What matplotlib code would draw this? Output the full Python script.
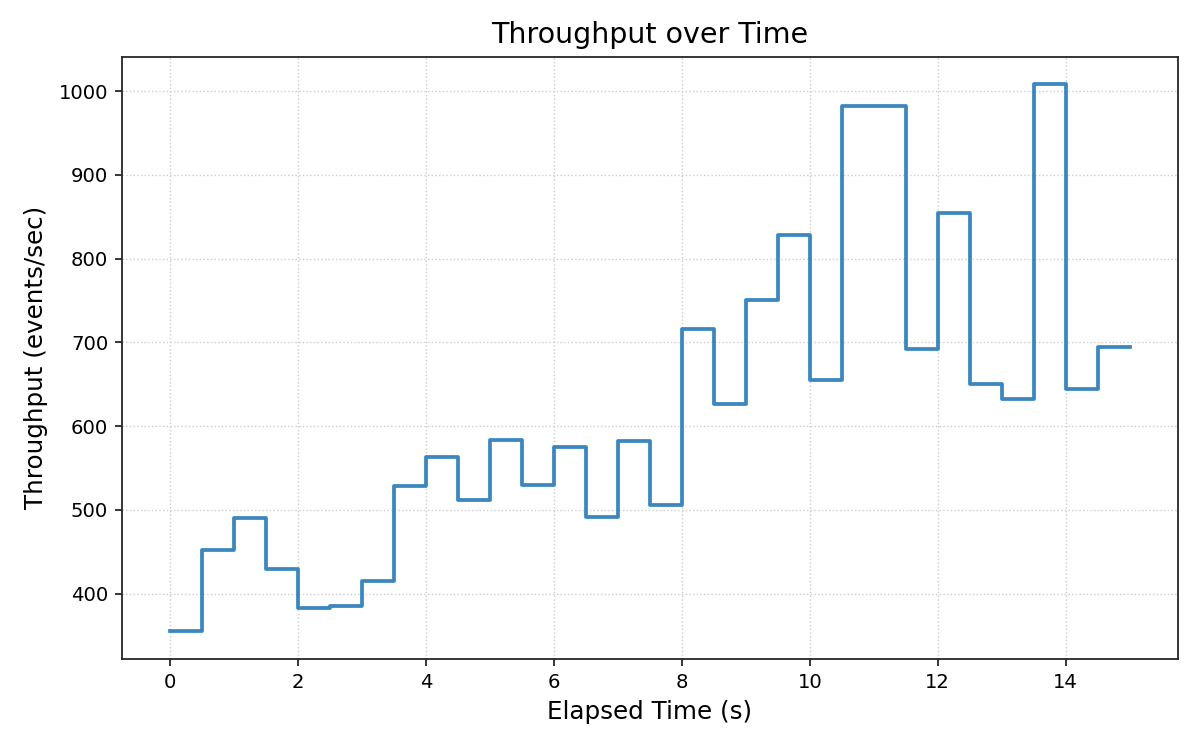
import matplotlib
matplotlib.use("Agg")
import matplotlib.pyplot as plt

elapsed_s = [0.0, 0.5, 1.0, 1.5, 2.0, 2.5, 3.0, 3.5, 4.0, 4.5, 5.0, 5.5, 6.0, 6.5, 7.0, 7.5,
             8.0, 8.5, 9.0, 9.5, 10.0, 10.5, 11.0, 11.5, 12.0, 12.5, 13.0, 13.5, 14.0, 14.5, 15.0]
throughput = [355, 452, 490, 430, 383, 385, 415, 528, 563, 512, 584, 530, 575, 492, 582, 506,
              716, 626, 751, 828, 655, 982, 982, 692, 854, 650, 632, 1008, 644, 694, 694]

fig = plt.figure(figsize=(12, 7.5), dpi=100)
ax = fig.add_axes([0.1017, 0.1217, 0.8797, 0.8023])
ax.step(elapsed_s, throughput, where="post", color="#3a86be", linewidth=2.7)
ax.grid(True, linestyle=":", color="#cccccc", linewidth=1.0)
ax.set_axisbelow(True)
ax.set_title("Throughput over Time", fontsize=20.5, pad=10)
ax.set_xlabel("Elapsed Time (s)", fontsize=17.7, labelpad=6)
ax.set_ylabel("Throughput (events/sec)", fontsize=17.7, labelpad=8)
ax.tick_params(labelsize=14.1, length=5, width=1.3, color="#262626", pad=5)
for s in ax.spines.values():
    s.set_linewidth(1.3)
    s.set_color("#262626")
fig.savefig("out.png", dpi=100)
